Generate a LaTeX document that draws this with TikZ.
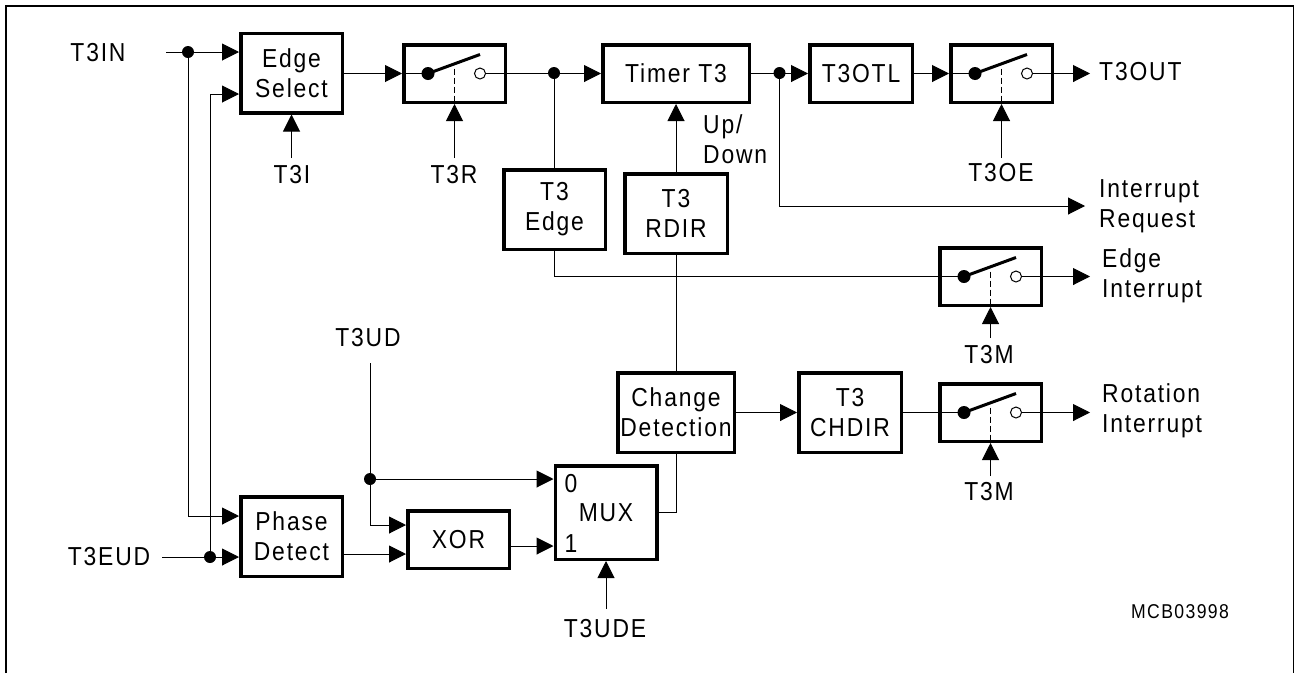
\documentclass[tikz,border=0pt]{standalone}
\usepackage{fontspec}
\setmainfont[FakeStretch=0.88,LetterSpace=7]{Liberation Sans}
\usetikzlibrary{arrows.meta,calc}

\begin{document}
\begin{tikzpicture}[
  x=1pt,y=-1pt,
  >={Triangle[length=17pt,width=17pt]},
  font=\fontsize{26}{30}\selectfont,
  block/.style={draw,line width=3.5pt,minimum width=101.5pt,minimum height=57.5pt,inner sep=0pt,align=center},
  tall/.style={block,minimum height=79.5pt},
  switchbox/.style={block},
  lbl/.style={inner sep=0pt,align=center},
  lblleft/.style={lbl,align=left,anchor=west},
  sig/.style={line width=1pt},
  sigarrow/.style={sig,->},
  junct/.style={circle,fill,inner sep=0pt,minimum size=12pt}
]
\useasboundingbox (0,0) rectangle (1295,673);

% ---- frame ----
\coordinate (fa) at (6,673);
\coordinate (fb) at (6,6);
\coordinate (fc) at (1293.5,6);
\coordinate (fd) at (1293.5,673);
\draw[line width=1.8pt] (fa) -- (fb) -- (fc) -- (fd);

% ---- top row ----
\node[tall,minimum width=101.5pt] (edgesel) at (291.5,73) {Edge\\Select};
\node[switchbox] (swr) at (454.5,73.5) {};
\node[block,minimum width=146.5pt] (timer) at (676,73.5) {Timer T3};
\node[block,minimum width=102.5pt] (otl) at (861,73.5) {T3OTL};
\node[switchbox] (swo) at (1001.5,73.5) {};

% ---- middle ----
\node[tall] (t3edge) at (554.5,209.5) {T3\\Edge};
\node[tall,minimum width=102.5pt] (rdir) at (676,213.5) {T3\\RDIR};
\node[switchbox] (swe) at (990.5,276.5) {};

% ---- bottom row ----
\node[tall,minimum width=116.5pt] (change) at (676,412.5) {Change\\Detection};
\node[tall,minimum width=102.5pt] (chdir) at (850,412.5) {T3\\CHDIR};
\node[switchbox] (swc) at (990.5,412.5) {};
\node[tall] (phase) at (291.5,536.5) {Phase\\Detect};
\node[block] (xor) at (458.5,539.5) {XOR};
\node[block,minimum height=93.5pt] (mux) at (606,512.5) {};
\node[lbl] (muxname) at (606,513) {MUX};
\node[lbl] (mux0) at (571,484) {0};
\node[lbl] (mux1) at (571,544) {1};

% ---- labels ----
\node[lbl] (t3in) at (98,53) {T3IN};
\node[lbl] (t3i) at (292,175) {T3I};
\node[lbl] (t3r) at (454,175) {T3R};
\node[lbl] (t3oe) at (1001,173) {T3OE};
\node[lblleft] (t3out) at (1099,72) {T3OUT};
\node[lblleft] (updown) at (703,139) {Up/\\Down};
\node[lblleft] (irq) at (1099,206) {Interrupt\\Request};
\node[lblleft] (edgeirq) at (1102,276) {Edge\\Interrupt};
\node[lblleft] (rotirq) at (1102,411) {Rotation\\Interrupt};
\node[lbl] (t3me) at (989,355) {T3M};
\node[lbl] (t3mc) at (989,492) {T3M};
\node[lbl] (t3ud) at (368,338) {T3UD};
\node[lbl] (t3eud) at (109,557) {T3EUD};
\node[lbl] (t3ude) at (605,629) {T3UDE};
\node[lbl,font=\fontsize{20}{24}\selectfont] (mcb) at (1180,612) {MCB03998};

% ---- junction dots ----
\node[junct] (j1) at (188,52) {};
\node[junct] (j2) at (210,557) {};
\node[junct] (j3) at (554,73) {};
\node[junct] (j4) at (779.5,73) {};
\node[junct] (j5) at (370,479) {};

% ---- switches ----
\foreach \sw in {swr,swo,swe,swc} {
  \coordinate (\sw L) at ($(\sw.center)+(-26.5,0)$);
  \coordinate (\sw R) at ($(\sw.center)+(25.5,0)$);
  \coordinate (\sw T) at ($(\sw.center)+(25.5,-19)$);
  \coordinate (\sw D) at ($(\sw.center)+(0,-5)$);
  \draw[sig] (\sw.west) -- (\sw L);
  \draw[sig] (\sw R) -- (\sw.east);
  \draw[sig,dashed,dash pattern=on 6pt off 3pt] (\sw D) -- (\sw.south);
  \draw[line width=3pt] (\sw L) -- (\sw T);
  \fill (\sw L) circle (6.5pt);
  \draw[sig,fill=white] (\sw R) circle (5.5pt);
}

% ---- main path ----
\coordinate (t3inS) at (166,52);
\draw[sigarrow] (t3inS) -- (edgesel.west |- j1);
\draw[sigarrow] (j1) |- (phase.west |- 0,516);
\draw[sigarrow] (j2) |- (edgesel.west |- 0,94);
\coordinate (t3eudS) at (162,557);
\draw[sigarrow] (t3eudS) -- (phase.west |- j2);
\draw[sigarrow] (edgesel.east |- swr.west) -- (swr.west);
\draw[sigarrow] (swr.east) -- (timer.west);
\draw[sig] (j3) -- (j3 |- t3edge.north);
\draw[sigarrow] (timer.east) -- (otl.west);
\draw[sigarrow] (otl.east) -- (swo.west);
\draw[sigarrow] (rdir.north) -- (timer.south);
\coordinate (irqE) at (1085,206);
\draw[sigarrow] (j4) |- (irqE);
\coordinate (outo) at (1090,73.5);
\draw[sigarrow] (swo.east) -- (outo);

% ---- control inputs ----
\coordinate (t3iS) at (edgesel.south |- 0,158);
\coordinate (t3rS) at (swr.south |- 0,158);
\coordinate (t3oeS) at (swo.south |- 0,158);
\coordinate (t3meS) at (swe.south |- 0,338);
\coordinate (t3mcS) at (swc.south |- 0,476);
\coordinate (t3udeS) at (mux.south |- 0,609);
\draw[sigarrow] (t3iS) -- (edgesel.south);
\draw[sigarrow] (t3rS) -- (swr.south);
\draw[sigarrow] (t3oeS) -- (swo.south);
\draw[sigarrow] (t3meS) -- (swe.south);
\draw[sigarrow] (t3mcS) -- (swc.south);
\draw[sigarrow] (t3udeS) -- (mux.south);

% ---- edge interrupt ----
\coordinate (oute) at (1090,276.5);
\draw[sig] (j3 |- t3edge.south) |- (swe.west);
\draw[sigarrow] (swe.east) -- (oute);

% ---- rotation path ----
\coordinate (t3udS) at (370,363);
\coordinate (outc) at (1090,412.5);
\draw[sig] (rdir.south) -- (change.north);
\draw[sigarrow] (change.east) -- (chdir.west);
\draw[sig] (chdir.east) -- (swc.west);
\draw[sigarrow] (swc.east) -- (outc);
\draw[sig] (mux.east |- 0,512) -| (change.south);
\draw[sigarrow] (t3udS) |- (xor.west |- 0,525);
\draw[sigarrow] (j5) -- (mux.west |- j5);
\draw[sigarrow] (phase.east |- 0,554) -- (xor.west |- 0,554);
\draw[sigarrow] (xor.east |- 0,546) -- (mux.west |- 0,546);

\end{tikzpicture}
\end{document}
